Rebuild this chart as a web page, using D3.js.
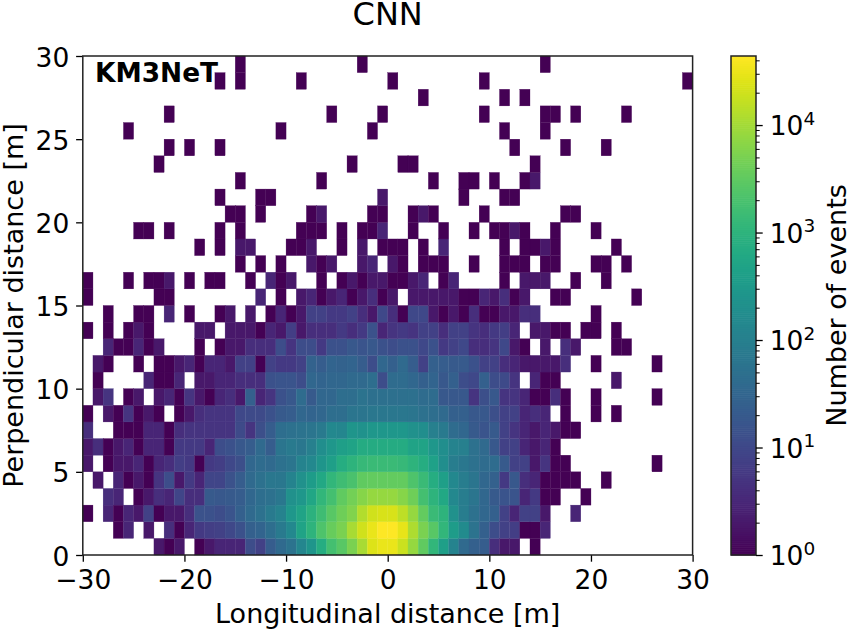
<!DOCTYPE html>
<html><head><meta charset="utf-8">
<script src="https://cdn.jsdelivr.net/npm/d3@7"></script>
<style>html,body{margin:0;padding:0;background:#fff}svg{display:block}text{font-family:"DejaVu Sans";fill:#000}</style>
</head><body><svg id="c" width="847" height="629"></svg>
<script>
const titleText="CNN", xLabel="Longitudinal distance [m]", yLabel="Perpendicular distance [m]", cLabel="Number of events", tag="KM3NeT";
const xTicks=[-30,-20,-10,0,10,20,30], yTicks=[0,5,10,15,20,25,30];
const cMajor=[1,10,100,1000,10000];
const cMinor=[2,3,4,5,6,7,8,9,20,30,40,50,60,70,80,90,200,300,400,500,600,700,800,900,2000,3000,4000,5000,6000,7000,8000,9000,20000,30000,40000];
const countMax=43900;
// counts per 1 m x 1 m bin; columns run from x=-30 to x=30, 0 = empty
const row0=[0,0,0,0,0,0,0,2,1,2, 0,1,2,3,3,3,12,8,22,38, 58,135,260,760,1800,2700,5100,11000,25000,31000, 31000,19000,8000,3200,1150,400,120,38,25,22, 4,2,2,0,1,0,0,0,0,0, 0,0,0,0,0,0,0,0,0,0];
const row1=[0,0,0,1,3,0,2,0,4,1, 3,6,7,8,10,14,25,30,46,80, 150,490,1000,2200,3700,5100,11000,20000,31000,43900, 43900,29000,12000,5100,2700,1150,360,170,58,25, 12,8,7,1,1,3,0,0,0,0, 0,0,0,0,0,0,0,0,0,0];
const row2=[1,0,3,1,3,2,8,1,2,2, 4,15,14,12,16,25,38,52,80,110, 290,490,930,1600,2700,4100,5800,13000,20000,23000, 23000,15000,8000,3400,1400,1000,210,90,52,34, 25,8,3,8,8,2,0,0,3,0, 0,0,0,0,0,0,0,0,0,0];
const row3=[0,0,4,3,0,1,2,4,3,9, 4,4,20,18,20,22,34,46,52,70, 210,290,550,1150,1800,3200,4600,6400,8000,8000, 8000,6400,4100,1800,1000,600,150,90,65,34, 20,16,16,3,6,1,1,0,0,1, 0,0,0,0,0,0,0,0,0,0];
const row4=[0,2,0,3,1,2,1,5,12,2, 6,3,9,9,15,22,38,52,70,70, 120,210,360,600,1150,1600,2000,3200,3400,3400, 3400,3400,2200,1400,760,400,150,90,65,34, 27,6,18,4,3,1,1,1,1,0, 0,1,0,0,0,0,0,0,0,0];
const row5=[2,0,1,2,2,3,1,3,4,7, 6,1,6,7,10,13,34,42,38,52, 65,120,150,260,400,760,1000,1300,1400,1400, 1400,1300,1000,760,440,190,90,70,52,42, 42,20,8,8,2,5,1,1,0,0, 0,0,0,0,0,0,1,0,0,0];
const row6=[2,4,1,2,3,1,3,3,1,6, 6,6,3,12,14,18,22,38,22,65, 80,70,100,190,290,400,490,680,680,680, 680,680,490,490,290,190,120,100,52,38, 18,8,8,3,2,3,1,0,0,0, 0,0,0,0,0,0,0,0,0,0];
const row7=[4,0,0,1,1,1,3,3,1,4, 5,5,5,5,5,11,5,13,22,46, 52,58,65,80,150,135,260,230,290,290, 290,290,210,190,100,80,42,34,20,16, 20,8,5,3,2,3,2,1,1,0, 0,0,0,0,0,0,0,0,0,0];
const row8=[1,0,2,1,5,1,2,1,0,1, 2,4,5,5,5,10,11,11,14,20, 22,34,30,34,46,46,65,65,70,70, 70,70,65,52,46,38,25,25,18,18, 13,8,8,3,4,3,0,1,0,0, 1,0,1,0,0,0,0,0,0,0];
const row9=[0,2,5,0,1,2,0,2,3,1, 5,2,1,3,4,2,25,3,5,14, 18,42,20,34,34,46,46,58,50,50, 50,50,50,42,42,18,18,18,5,13, 18,5,5,3,1,1,4,1,0,0, 1,0,0,0,0,0,1,0,0,0];
const row10=[0,1,0,0,0,0,3,1,1,3, 0,2,2,3,3,4,4,4,14,16, 16,12,34,30,34,34,38,38,46,12, 42,42,34,25,30,18,25,12,10,25, 12,11,5,0,3,1,1,0,0,0, 0,0,2,0,0,0,0,0,0,0];
const row11=[0,2,1,0,0,1,0,1,1,2, 3,1,3,3,2,8,8,1,8,6, 6,8,28,22,30,28,30,22,12,34, 25,38,22,8,25,22,20,20,14,8, 8,4,3,2,2,2,2,4,0,0, 1,0,0,0,0,0,1,0,0,0];
const row12=[0,0,3,1,1,3,1,2,0,0, 0,1,0,1,2,2,4,4,4,12, 5,12,12,6,14,14,18,16,18,14, 12,14,14,10,14,6,8,10,4,4, 5,10,2,1,0,2,0,4,2,0, 0,0,1,1,0,0,0,0,0,0];
const row13=[1,0,1,0,1,2,1,0,0,0, 0,2,2,0,2,2,2,1,3,2, 7,2,4,4,4,6,4,6,15,3, 5,6,5,8,8,4,8,8,5,4, 6,7,3,0,2,2,1,1,0,1, 1,0,1,0,0,0,0,0,0,0];
const row14=[0,0,1,0,0,1,1,0,3,0, 1,0,0,1,2,0,2,0,1,3, 1,2,8,8,6,6,8,4,2,10, 4,1,10,10,2,1,2,1,4,1, 1,2,2,4,4,0,0,0,0,0, 1,0,0,0,0,0,0,0,0,0];
const row15=[1,0,0,0,0,0,0,1,1,0, 0,0,0,0,0,0,0,3,0,1, 0,2,3,1,2,3,1,2,4,1, 2,0,2,2,2,2,2,1,1,3, 2,4,1,2,0,0,1,1,0,0, 0,0,0,0,1,0,0,0,0,0];
const row16=[1,0,0,0,1,0,1,1,2,0, 1,0,1,1,0,0,1,0,3,1, 2,0,0,1,0,1,2,1,2,2, 1,1,2,3,0,1,3,0,0,0, 0,1,0,2,2,2,0,0,1,0, 0,1,0,0,0,0,0,0,0,0];
const row17=[0,0,0,0,0,0,0,0,0,0, 0,0,0,0,0,1,0,1,0,1, 0,0,2,1,2,0,0,2,3,0, 2,1,0,1,1,1,0,0,1,0, 0,1,1,1,0,1,1,0,0,0, 1,1,0,1,0,0,0,0,0,0];
const row18=[0,0,0,0,0,0,0,0,0,0, 0,1,0,1,0,2,2,0,0,0, 1,1,2,0,0,1,0,2,0,1, 1,1,0,1,0,3,0,0,0,0, 0,1,0,1,1,2,1,0,0,0, 0,0,1,0,0,0,0,0,0,0];
const row19=[0,0,0,0,0,1,1,0,1,0, 0,0,0,1,0,1,0,0,0,0, 0,1,1,1,0,1,0,1,1,3, 0,0,1,0,0,1,0,0,1,0, 1,1,2,1,0,0,1,0,0,0, 1,0,0,0,0,0,0,0,0,0];
const row20=[0,0,0,0,0,0,0,0,0,0, 0,0,0,0,1,1,0,1,0,0, 0,0,1,2,0,0,0,0,1,1, 0,0,1,2,1,0,0,0,0,1, 0,0,0,0,0,0,0,1,1,0, 0,0,0,0,0,0,0,0,0,0];
const row21=[0,0,0,0,0,0,0,0,0,0, 0,0,0,1,0,0,0,1,1,0, 0,0,0,0,0,0,0,0,0,2, 0,0,0,0,0,0,0,1,0,0, 0,1,1,0,0,0,0,0,0,0, 0,0,0,0,0,0,0,0,0,0];
const row22=[0,0,0,0,0,0,0,0,0,0, 0,0,0,0,0,1,0,0,0,0, 0,0,0,1,0,0,0,0,0,0, 0,0,0,0,1,0,0,1,1,0, 1,0,0,1,2,0,0,0,0,0, 0,0,0,0,0,0,0,0,0,0];
const row23=[0,0,0,0,0,0,0,1,0,0, 0,0,0,0,0,0,0,0,0,0, 0,0,0,0,0,0,1,0,0,0, 0,1,1,0,0,0,0,0,0,0, 0,0,0,0,1,0,0,0,0,0, 0,0,0,0,0,0,0,0,0,0];
const row24=[0,0,0,0,0,0,0,0,1,0, 1,0,0,1,0,0,0,0,0,0, 0,0,0,0,0,0,0,0,0,0, 0,0,0,0,0,0,0,0,0,0, 0,0,1,0,0,0,0,1,0,0, 0,1,0,0,0,0,0,0,0,0];
const row25=[0,0,0,0,1,0,0,0,0,0, 0,0,0,0,0,0,0,0,0,1, 0,0,0,0,0,0,0,0,1,0, 0,0,0,0,0,0,0,0,0,0, 0,1,0,0,0,1,0,0,0,0, 0,0,0,0,0,0,0,0,0,0];
const row26=[0,0,0,0,0,0,0,0,1,0, 0,0,0,0,0,0,0,0,0,0, 0,0,0,0,1,0,0,0,0,1, 0,0,0,0,0,0,0,0,0,1, 0,0,0,0,0,1,1,0,1,0, 0,0,0,1,0,0,0,0,0,0];
const row27=[0,0,0,0,0,0,0,0,0,0, 0,0,0,0,0,0,0,0,0,0, 0,0,0,0,0,0,0,0,0,0, 0,0,0,1,0,0,0,0,0,0, 0,1,0,1,0,0,0,0,0,0, 0,0,0,0,0,0,0,0,0,0];
const row28=[0,0,0,0,0,0,0,0,0,0, 0,0,0,1,0,1,0,0,0,0, 0,1,0,0,0,0,0,0,0,0, 1,0,0,0,0,0,0,0,0,1, 0,0,0,0,0,0,0,0,0,0, 0,0,0,0,0,0,0,0,0,1];
const row29=[0,0,0,0,0,0,0,0,0,0, 0,0,0,0,0,1,0,0,0,0, 0,0,0,0,0,0,0,1,0,0, 0,0,0,0,0,0,0,0,0,0, 0,0,0,0,0,1,0,0,0,0, 0,0,0,0,0,0,0,0,0,0];
const rows=[row0,row1,row2,row3,row4,row5,row6,row7,row8,row9,row10,row11,row12,row13,row14,row15,row16,row17,row18,row19,row20,row21,row22,row23,row24,row25,row26,row27,row28,row29];

const svg=d3.select("#c");
const L=82.8,R=692.6,T=56,B=555;
const x=d3.scaleLinear().domain([-30,30]).range([L,R]);
const y=d3.scaleLinear().domain([0,30]).range([B,T]);
const cb=d3.scaleLog().domain([1,countMax]).range([B,T]);
const color=v=>d3.interpolateViridis((B-cb(v))/(B-T));

// heatmap cells
const cells=rows.flatMap((r,j)=>r.map((v,i)=>({i,j,v}))).filter(d=>d.v>0);
svg.append("g").selectAll("rect").data(cells).join("rect")
 .attr("x",d=>x(d.i-30)).attr("width",d=>x(d.i-29)-x(d.i-30))
 .attr("y",d=>y(d.j+1)).attr("height",d=>y(d.j)-y(d.j+1))
 .attr("fill",d=>color(d.v))
 .attr("stroke",d=>color(d.v)).attr("stroke-width",0.3);

const fs=26.5;
function style(g){g.selectAll(".domain").remove();g.selectAll("line").attr("stroke","#000").attr("stroke-width",1.3);g.selectAll("text").attr("font-size",fs);}
svg.append("g").attr("transform",`translate(0,${B})`).call(d3.axisBottom(x).tickValues(xTicks).tickSize(6.7).tickPadding(8.8)).call(style);
svg.append("g").attr("transform",`translate(${L},0)`).call(d3.axisLeft(y).tickValues(yTicks).tickSize(6.7).tickPadding(6.8)).call(style)
 .selectAll("text").attr("dy","0.38em");
svg.append("rect").attr("x",L).attr("y",T).attr("width",R-L).attr("height",B-T).attr("fill","none").attr("stroke","#222").attr("stroke-width",1.5);

svg.append("text").attr("x",95).attr("y",81.7).attr("font-size",26.4).attr("font-weight","bold").text(tag);
svg.append("text").attr("x",(L+R)/2).attr("y",25).attr("text-anchor","middle").attr("font-size",32).text(titleText);
svg.append("text").attr("x",(L+R)/2).attr("y",622.5).attr("text-anchor","middle").attr("font-size",27).text(xLabel);
svg.append("text").attr("transform",`translate(23,${(T+B)/2}) rotate(-90)`).attr("text-anchor","middle").attr("font-size",27).text(yLabel);

// colour bar
const CL=731,CR=756;
const steps=d3.range(0,256);
const stepH=(B-T)/256;
svg.append("g").selectAll("rect").data(steps).join("rect")
 .attr("x",CL).attr("width",CR-CL)
 .attr("y",d=>cb(Math.pow(countMax,(d+1)/256))).attr("height",stepH+0.6)
 .attr("fill",d=>d3.interpolateViridis(d/255));
svg.append("rect").attr("x",CL).attr("y",T).attr("width",CR-CL).attr("height",B-T).attr("fill","none").attr("stroke","#222").attr("stroke-width",1.5);
const major=svg.append("g").attr("transform",`translate(${CR},0)`).call(d3.axisRight(cb).tickValues(cMajor).tickSize(6.7).tickPadding(7).tickFormat(""));
major.call(style);
major.selectAll(".tick text").attr("dy","0.37em").each(function(d){
  const t=d3.select(this);
  t.append("tspan").text("10");
  t.append("tspan").attr("font-size",18.5).attr("dy",-10.5).text(String(Math.round(Math.log10(d))));
});
const minor=svg.append("g").attr("transform",`translate(${CR},0)`).call(d3.axisRight(cb).tickValues(cMinor).tickSize(3.7).tickFormat(""));
minor.call(style);minor.selectAll("line").attr("stroke-width",1);
svg.append("text").attr("transform",`translate(846,${(T+B)/2}) rotate(-90)`).attr("text-anchor","middle").attr("font-size",27).text(cLabel);
</script></body></html>
